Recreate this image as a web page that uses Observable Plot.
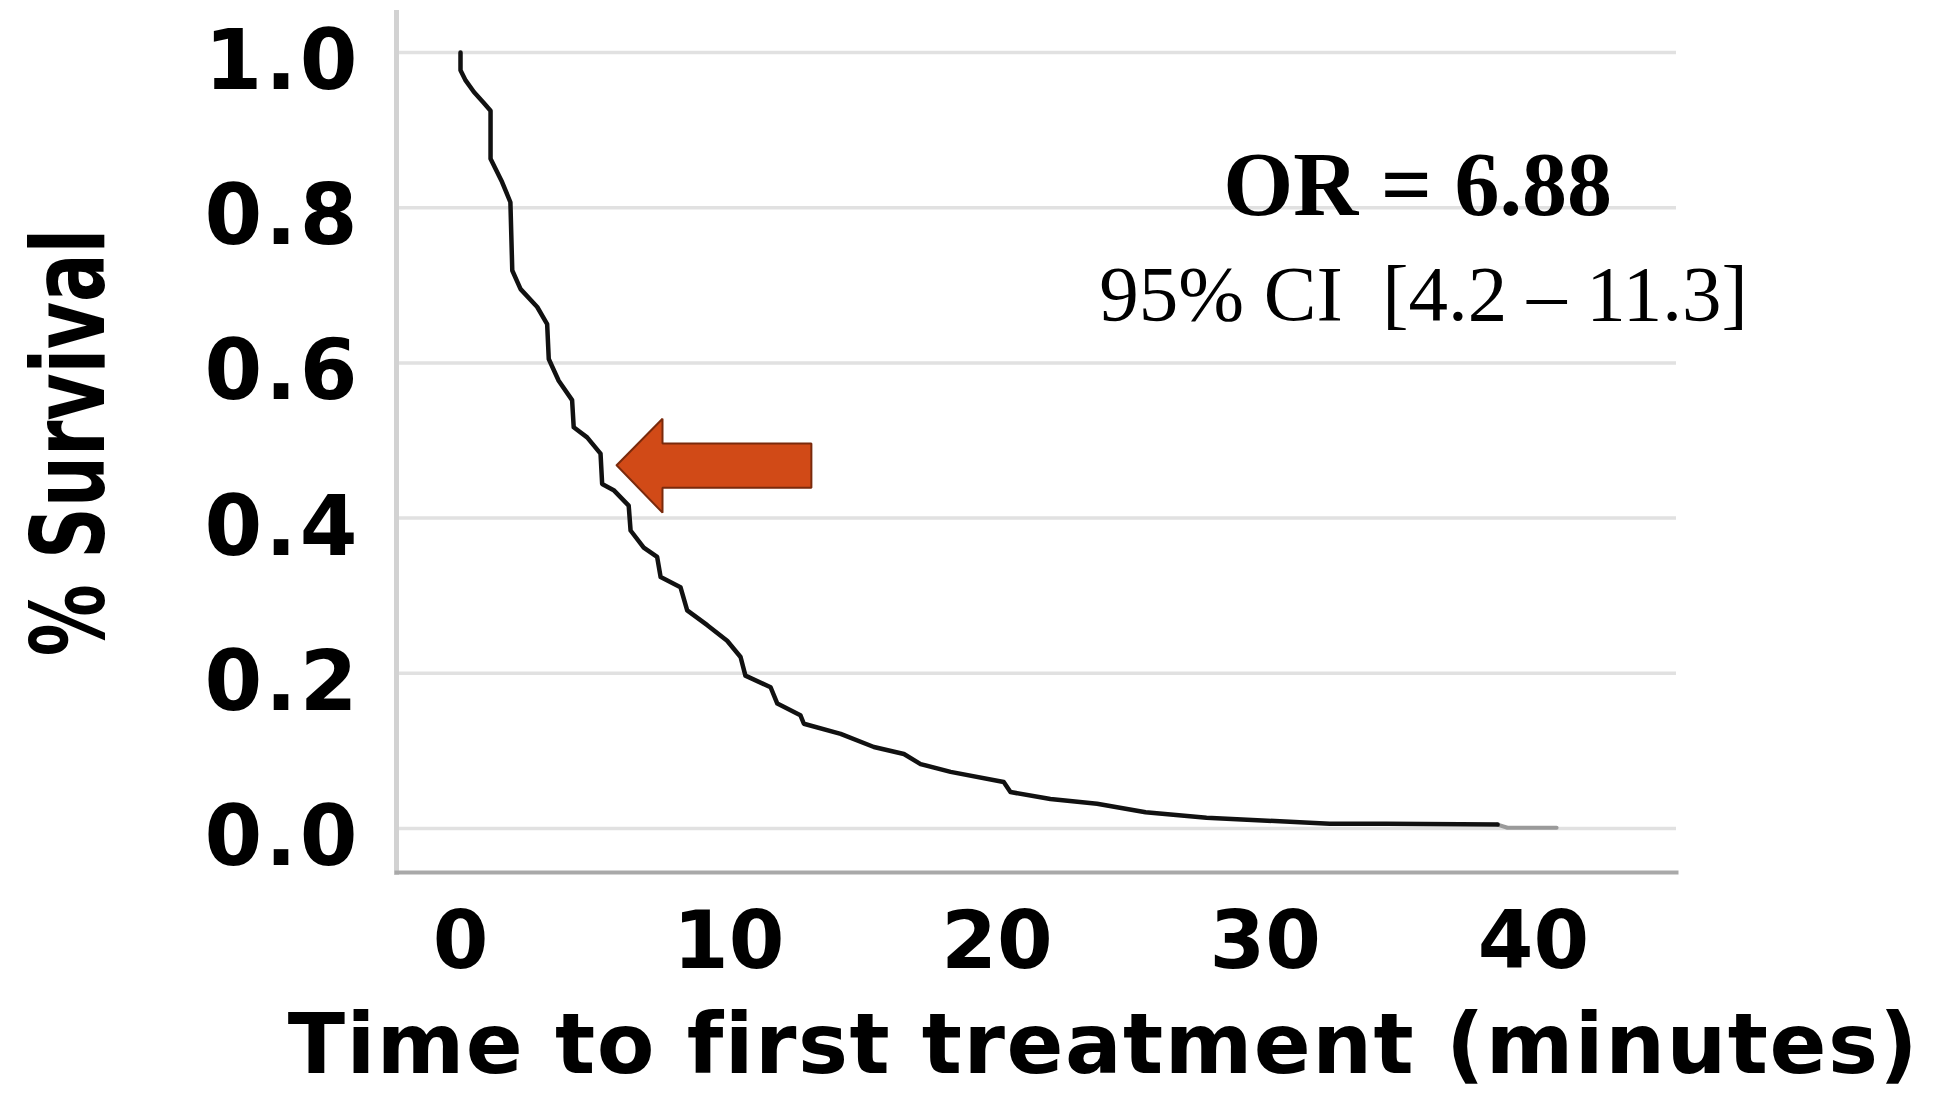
<!DOCTYPE html>
<html>
<head>
<meta charset="utf-8">
<script src="https://cdn.jsdelivr.net/npm/d3@7"></script>
<script src="https://cdn.jsdelivr.net/npm/@observablehq/plot@0.6"></script>
<style>
  html, body { margin: 0; padding: 0; background: #fff; overflow: hidden; }
  #chart svg { display: block; }
</style>
</head>
<body>
<div id="chart"></div>
<script>
// Kaplan–Meier style curve
const timeMin = [0, 0, 0.19, 0.50, 0.87, 1.12, 1.12, 1.55, 1.86, 1.93, 2.24, 2.86, 3.23, 3.29, 3.66, 4.16, 4.22, 4.72, 5.22, 5.28, 5.71, 6.27, 6.34, 6.83, 7.33, 7.46, 8.20, 8.45, 9.20, 9.94, 10.44, 10.62, 11.56, 11.81, 12.67, 12.80, 14.17, 15.41, 16.53, 17.15, 18.27, 20.25, 20.50, 21.99, 23.73, 25.54, 27.81, 30.08, 32.4, 34.5, 38.66];
const survival = [1.0, 0.977, 0.964, 0.949, 0.935, 0.925, 0.863, 0.833, 0.807, 0.719, 0.695, 0.672, 0.650, 0.605, 0.577, 0.552, 0.517, 0.504, 0.483, 0.444, 0.436, 0.416, 0.384, 0.362, 0.350, 0.324, 0.311, 0.281, 0.262, 0.242, 0.221, 0.197, 0.182, 0.161, 0.146, 0.135, 0.122, 0.105, 0.096, 0.083, 0.073, 0.060, 0.047, 0.038, 0.032, 0.021, 0.014, 0.010, 0.006, 0.006, 0.005];
// faded tail at the end of the curve
const tailTime = [38.66, 39.03, 40.86];
const tailSurvival = [0.005, 0.001, 0.001];

const xTicks = [0, 10, 20, 30, 40];
const yTicks = [0, 0.2, 0.4, 0.6, 0.8, 1.0];

// block arrow annotation (time, survival)
const arrowTime = [5.82, 7.53, 7.53, 13.08, 13.08, 7.53, 7.53, 5.82];
const arrowSurvival = [0.468, 0.528, 0.496, 0.496, 0.439, 0.439, 0.407, 0.468];

// annotation texts and anchors (time, survival)
const noteText = ["OR = 6.88", "95% CI\u00a0 [4.2 \u2013 11.3]"];
const noteTime = [35.68, 35.9];
const noteSurvival = [0.790, 0.655];

const xLabel = "Time to first treatment (minutes)";
const yLabel = "% Survival";

const curve = timeMin.map((t, i) => ({t, s: survival[i]}));
const tail = tailTime.map((t, i) => ({t, s: tailSurvival[i]}));
const arrow = arrowTime.map((t, i) => ({t, s: arrowSurvival[i]}));

const chart = Plot.plot({
  width: 1944,
  height: 1095,
  marginLeft: 396,
  marginRight: 268,
  marginTop: 12,
  marginBottom: 223,
  style: {background: "#fff", color: "#000", fontFamily: "DejaVu Sans"},
  x: {domain: [-2.386, 45.33], label: null},
  y: {domain: [-0.0567, 1.0515], label: null},
  marks: [
    Plot.ruleY(yTicks, {stroke: "#e1e1e1", strokeWidth: 3.5}),
    Plot.frame({anchor: "left", stroke: "#d2d2d2", strokeWidth: 5}),
    Plot.frame({anchor: "bottom", stroke: "#a9a9a9", strokeWidth: 4}),
    Plot.axisY(yTicks, {tickSize: 0, tickPadding: 36, fontSize: 83, fontWeight: "bold", fontFamily: "DejaVu Sans", dy: 10, tickFormat: d => d.toFixed(1), label: null, className: "yticks"}),
    Plot.axisX(xTicks, {tickSize: 0, tickPadding: 39, fontSize: 80, fontWeight: "bold", fontFamily: "DejaVu Sans", label: null}),
    Plot.line(tail, {x: "t", y: "s", stroke: "#9a9a9a", strokeWidth: 4}),
    Plot.line(curve, {x: "t", y: "s", stroke: "#111", strokeWidth: 4.5, strokeLinejoin: "round"}),
    Plot.line(arrow, {x: "t", y: "s", fill: "#d14a17", stroke: "#7a2a0c", strokeWidth: 2, strokeLinejoin: "miter"}),
    Plot.text([noteText[0]], {x: noteTime[0], y: noteSurvival[0], text: d => d, textAnchor: "middle", lineAnchor: "bottom", fontSize: 90, fontWeight: "bold", fontFamily: "Liberation Serif", fill: "#000"}),
    Plot.text([noteText[1]], {x: noteTime[1], y: noteSurvival[1], text: d => d, textAnchor: "middle", lineAnchor: "bottom", fontSize: 79, fontFamily: "Liberation Serif", fill: "#000"}),
    Plot.text([xLabel], {frameAnchor: "bottom", text: d => d, dx: 67, dy: 200, textAnchor: "middle", lineAnchor: "bottom", fontSize: 84, fontWeight: "bold", fontFamily: "DejaVu Sans", fill: "#000", className: "xlab"}),
    Plot.text([yLabel], {frameAnchor: "left", text: d => d, dx: -293, rotate: -90, textAnchor: "middle", lineAnchor: "bottom", fontSize: 72, fontWeight: "bold", fontFamily: "DejaVu Sans", fill: "#000", className: "ylab"})
  ]
});

document.getElementById("chart").appendChild(chart);

// stretch the rotated y label glyphs (condensed tall face in the original)
d3.select(chart).selectAll("g.ylab text").each(function() {
  const tr = this.getAttribute("transform") || "";
  this.setAttribute("transform", tr + " scale(1,1.4)");
});
d3.select(chart).selectAll("g.xlab text").style("letter-spacing", "1.5px");
d3.select(chart).selectAll("g.yticks text").style("letter-spacing", "3px");
</script>
</body>
</html>
